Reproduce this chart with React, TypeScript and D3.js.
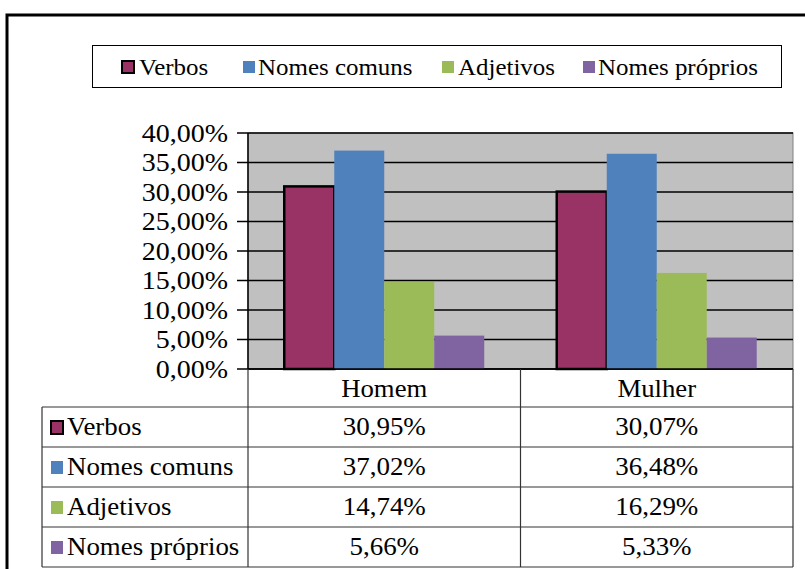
import React from "react";
import * as d3 from "d3";

const categories = ["Homem", "Mulher"];
const seriesNames = ["Verbos", "Nomes comuns", "Adjetivos", "Nomes próprios"];
const verbos = [0.3095, 0.3007];
const nomesComuns = [0.3702, 0.3648];
const adjetivos = [0.1474, 0.1629];
const nomesProprios = [0.0566, 0.0533];
const yTicks = [0, 0.05, 0.1, 0.15, 0.2, 0.25, 0.3, 0.35, 0.4];

const colors = ["#993366", "#4F81BD", "#9BBB59", "#8064A2"];
const FONT = "'Liberation Serif'";

const locale = d3.formatLocale({ decimal: ",", thousands: ".", grouping: [3], currency: ["", ""] });
const pct = locale.format(".2%");

function T(props: { x: number; y: number; sx: number; size: number; anchor?: string; children: React.ReactNode }) {
  return (
    <text transform={`translate(${props.x},${props.y}) scale(${props.sx},1)`} textAnchor={props.anchor ?? "start"}
      style={{ fontFamily: FONT }} fontSize={props.size} fill="#000">{props.children}</text>
  );
}

export default function App() {
  const values = [verbos, nomesComuns, adjetivos, nomesProprios];
  const plotL = 248, plotR = 793, plotT = 133, plotB = 369;
  const x = d3.scaleBand<string>().domain(categories).range([plotL, plotR]);
  const xs = d3.scaleBand<string>().domain(seriesNames).range([0, x.bandwidth()]).paddingInner(0).paddingOuter(0.725);
  const y = d3.scaleLinear().domain([0, 0.4]).range([plotB, plotT]);

  const tableL = 42;
  const headerB = 407;
  const rowH = 40;

  const legendItems = [
    { mx: 122, tx: 139 },
    { mx: 243, tx: 258 },
    { mx: 442, tx: 458 },
    { mx: 583, tx: 598 },
  ];

  return (
    <svg width={805} height={569} style={{ position: "absolute", left: 0, top: 0, background: "#fff" }}>
      {/* outer frame */}
      <rect x={7} y={15} width={830} height={600} fill="#fff" stroke="#000" strokeWidth={3} />

      {/* legend */}
      <rect x={92.5} y={45.5} width={689} height={42} fill="#fff" stroke="#000" strokeWidth={1} />
      {seriesNames.map((s, i) => (
        <g key={s}>
          <rect x={legendItems[i].mx} y={61} width={12} height={12} fill={colors[i]}
            stroke={i === 0 ? "#000" : "none"} strokeWidth={i === 0 ? 2 : 0} />
          <T x={legendItems[i].tx} y={75} sx={1.085} size={23}>{s}</T>
        </g>
      ))}

      {/* plot area */}
      <rect x={plotL} y={plotT} width={plotR - plotL} height={plotB - plotT} fill="#C0C0C0" stroke="#808080" strokeWidth={1} />
      {yTicks.map((t) => (
        <g key={t}>
          <line x1={237} x2={plotR} y1={y(t)} y2={y(t)} stroke="#000" strokeWidth={1.5} />
          <T x={228} y={y(t) + 8.5} sx={1.12} size={25} anchor="end">{pct(t)}</T>
        </g>
      ))}

      {/* bars */}
      {categories.map((c, ci) => (
        <g key={c}>
          {seriesNames.map((s, si) => {
            const bx = (x(c) ?? 0) + (xs(s) ?? 0);
            const v = values[si][ci];
            return (
              <rect key={s} x={bx} y={y(v)} width={xs.bandwidth()} height={plotB - y(v)} fill={colors[si]}
                stroke={si === 0 ? "#000" : "none"} strokeWidth={si === 0 ? 2.5 : 0} />
            );
          })}
        </g>
      ))}
      <line x1={plotL} x2={plotL} y1={plotT} y2={plotB} stroke="#000" strokeWidth={1.5} />
      <line x1={plotL} x2={plotR} y1={plotB} y2={plotB} stroke="#000" strokeWidth={1.5} />

      {/* data table */}
      <g stroke="#333" strokeWidth={1.2} fill="none">
        <line x1={plotL} x2={plotL} y1={plotB} y2={headerB + rowH * 4} />
        <line x1={x("Mulher")} x2={x("Mulher")} y1={plotB} y2={headerB + rowH * 4} />
        <line x1={plotR} x2={plotR} y1={plotB} y2={headerB + rowH * 4} />
        <line x1={tableL} x2={tableL} y1={headerB} y2={headerB + rowH * 4} />
        {[0, 1, 2, 3, 4].map((r) => (
          <line key={r} x1={tableL} x2={plotR} y1={headerB + r * rowH} y2={headerB + r * rowH} />
        ))}
      </g>
      {categories.map((c) => (
        <T key={c} x={(x(c) ?? 0) + x.bandwidth() / 2} y={397} sx={1.07} size={25} anchor="middle">{c}</T>
      ))}
      {seriesNames.map((s, si) => (
        <g key={s}>
          <rect x={51} y={headerB + si * rowH + 14} width={12} height={13} fill={colors[si]}
            stroke={si === 0 ? "#000" : "none"} strokeWidth={si === 0 ? 2 : 0} />
          <T x={67} y={headerB + si * rowH + 27.5} sx={1.075} size={25}>{s}</T>
          {categories.map((c, ci) => (
            <T key={c} x={(x(c) ?? 0) + x.bandwidth() / 2} y={headerB + si * rowH + 27.5} sx={1.08} size={25} anchor="middle">
              {pct(values[si][ci])}
            </T>
          ))}
        </g>
      ))}
    </svg>
  );
}
